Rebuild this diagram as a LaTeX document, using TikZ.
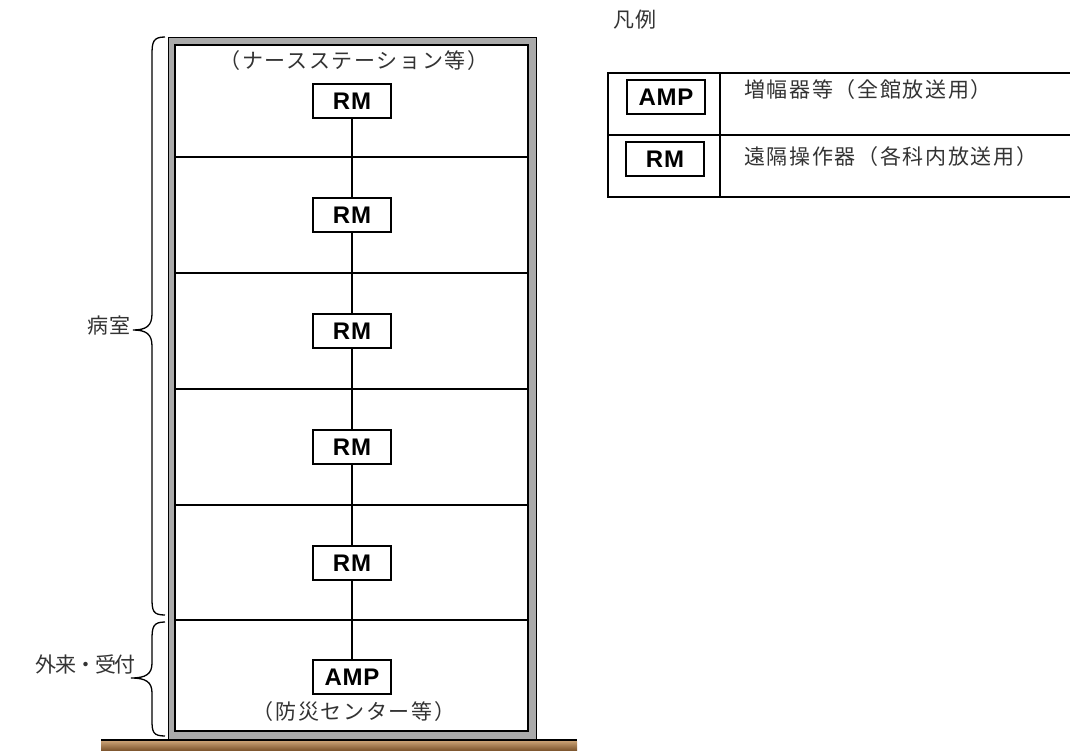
\documentclass[tikz,border=0pt]{standalone}
\usepackage{fontspec}
\setmainfont{Liberation Sans}
\newfontfamily\jp{Noto Sans CJK JP}[LetterSpace=8]
\newfontfamily\jpn{Noto Sans CJK JP}[LetterSpace=-6]
\newfontfamily\lat{Liberation Sans}[LetterSpace=3]
\definecolor{wallgray}{RGB}{170,170,170}
\definecolor{groundtop}{RGB}{200,160,115}
\definecolor{groundbot}{RGB}{120,80,40}
\begin{document}
\begin{tikzpicture}[x=1pt,y=-1pt,
  unitbox/.style={draw, line width=1.5pt, fill=white, minimum width=78pt, minimum height=34pt, inner sep=0pt, font=\lat\bfseries\fontsize{24}{24}\selectfont},
  jptext/.style={inner sep=0pt, text=black!80, font=\jp\fontsize{21}{24}\selectfont},
  wire/.style={line width=1.5pt},
  bracepath/.style={line width=1.3pt}]
\useasboundingbox (0,0) rectangle (1070,751);
% building
\filldraw[fill=wallgray, draw=black, line width=0.8pt] (168,37) rectangle (536,739);
\draw[fill=white, line width=1.5pt] (175,45) rectangle (528,731);
\foreach \yy in {157,273,389,505,620} \draw[wire] (175,\yy) -- (528,\yy);
% units
\node[unitbox] (rm1) at (352,101) {RM};
\node[unitbox] (rm2) at (352,215) {RM};
\node[unitbox] (rm3) at (352,331) {RM};
\node[unitbox] (rm4) at (352,447) {RM};
\node[unitbox] (rm5) at (352,563) {RM};
\node[unitbox] (amp) at (352,677) {AMP};
\draw[wire] (rm1.south) -- (rm2.north);
\draw[wire] (rm2.south) -- (rm3.north);
\draw[wire] (rm3.south) -- (rm4.north);
\draw[wire] (rm4.south) -- (rm5.north);
\draw[wire] (rm5.south) -- (amp.north);
\node[jptext] (ns) at (354,61) {（ナースステーション等）};
\node[jptext] (bs) at (354,712) {（防災センター等）};
% braces
\draw[bracepath] (165,37) .. controls (153,37) and (152,42) .. (152,55) -- (152,314)
  .. controls (152,326) and (146,330) .. (133,330)
  .. controls (146,330) and (152,334) .. (152,346) -- (152,598)
  .. controls (152,611) and (153,615) .. (165,615);
\draw[bracepath] (165,622) .. controls (153,622) and (152,627) .. (152,640) -- (152,663)
  .. controls (152,674) and (146,678) .. (131,678)
  .. controls (146,678) and (152,682) .. (152,693) -- (152,720)
  .. controls (152,732) and (153,736) .. (165,736);
\node[jptext, anchor=east] (lb1) at (131,326) {病室};
\node[jptext, anchor=east, font=\jpn\fontsize{21}{24}\selectfont] (lb2) at (136,664) {外来・受付};
% ground
\shade[top color=groundtop, bottom color=groundbot] (101,741) rectangle (577,751);
\draw[line width=1.5pt] (101,740) -- (577,740);
% legend
\node[jptext, anchor=west] (lg) at (613,20) {凡例};
\draw[line width=1.8pt] (1071,73) -- (608,73) -- (608,197) -- (1071,197);
\draw[line width=1.8pt] (608,135) -- (1071,135);
\draw[line width=1.8pt] (720,73) -- (720,197);
\node[unitbox] (lamp) at (666,97) {AMP};
\node[unitbox] (lrm) at (665,159) {RM};
\node[jptext, anchor=west] (t1) at (744,90) {増幅器等（全館放送用）};
\node[jptext, anchor=west] (t2) at (744,157) {遠隔操作器（各科内放送用）};
\end{tikzpicture}
\end{document}
